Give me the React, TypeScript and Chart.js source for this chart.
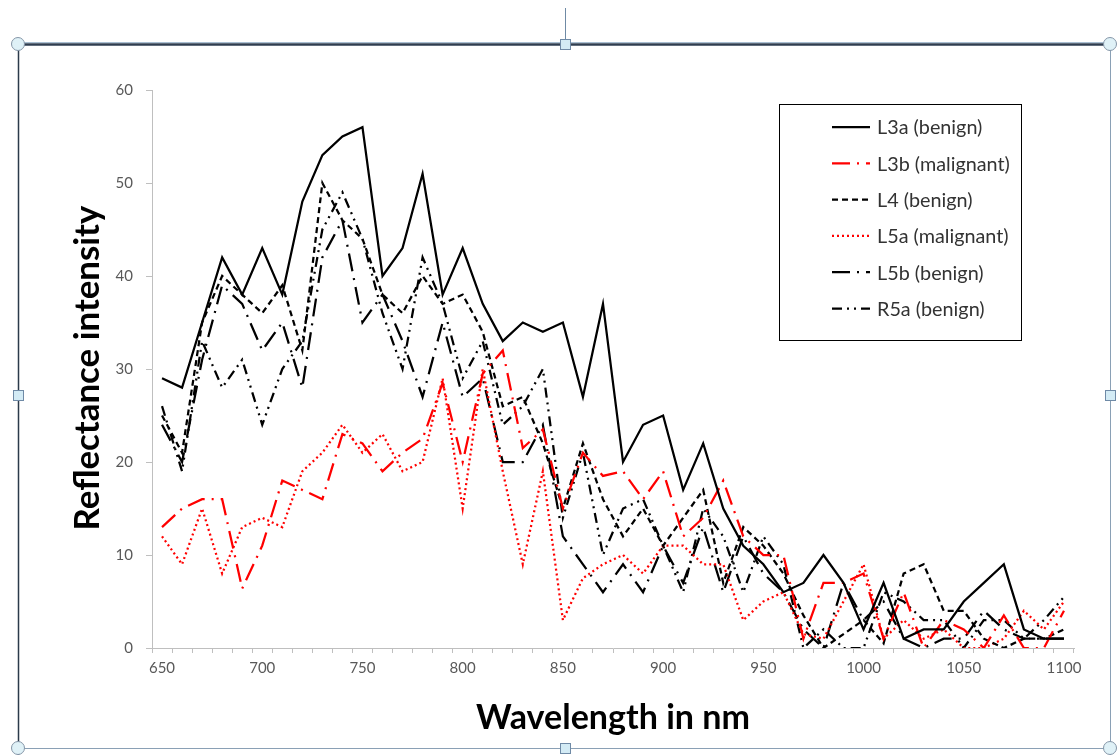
import React, { useEffect, useRef } from "react";
import { Chart, registerables } from "chart.js";

Chart.register(...registerables);

const wavelengths = [
  650, 660, 670, 680, 690, 700, 710, 720, 730, 740, 750, 760, 770, 780, 790, 800,
  810, 820, 830, 840, 850, 860, 870, 880, 890, 900, 910, 920, 930, 940, 950, 960,
  970, 980, 990, 1000, 1010, 1020, 1030, 1040, 1050, 1060, 1070, 1080, 1090, 1100,
];
const shownXLabels = [650, 700, 750, 800, 850, 900, 950, 1000, 1050, 1100];

const l3a = [29, 28, 35, 42, 38, 43, 38, 48, 53, 55, 56, 40, 43, 51, 38, 43, 37, 33, 35, 34, 35, 27, 37, 20, 24, 25, 17, 22, 15, 11, 9, 6, 7, 10, 7, 2, 7, 1, 2, 2, 5, 7, 9, 2, 1, 1];
const l3b = [13, 15, 16, 16, 6.4, 11, 18, 17, 16, 23, 22, 19, 21, 22.5, 28.5, 20, 29.5, 32, 21.5, 23.5, 15, 21, 18.5, 19, 16, 19, 12, 14, 18, 12, 10, 10, 1, 7, 7, 8, 1, 6, 0, 3, 2, 0, 3.5, 0, 0, 4];
const l4 = [25, 21, 35, 40, 38, 36, 39, 32, 50, 46, 44, 38, 36, 40, 37, 38, 34, 26, 27, 22, 15, 22, 16, 12, 15, 11, 14, 17, 7, 13, 11, 8, 3.5, 0, 1.5, 3, 0.5, 8, 9, 4, 4, 1, 0, 1, 1, 2];
const l5a = [12, 9, 15, 8, 13, 14, 13, 19, 21, 24, 21, 23, 19, 20, 29, 15, 30, 19, 9, 19, 3, 7.5, 9, 10, 8, 11, 11, 9, 9, 3, 5, 6, 1.5, 1, 5, 9, 1, 3, 1, 2, 0, 0, 1, 4, 2, 5];
const l5b = [24, 20, 31, 39, 37, 32, 35, 28, 42, 46, 35, 38, 33, 27, 35, 27, 29, 20, 20, 24, 12, 9, 6, 9, 6, 11, 7, 13, 6, 12, 8, 6, 2, 0, 7, 3, 5, 1, 0, 1, 1, 4, 2, 1, 1, 1];
const r5a = [26, 19, 33, 28, 31, 24, 30, 33, 45, 49, 44, 36, 30, 42, 37, 29, 33, 24, 26, 30, 14, 21, 10, 15, 16, 11, 6, 15, 12, 6, 12, 9, 0, 2, 0, 0, 6, 5, 3, 3, 0, 3, 3, 1, 3, 5.5];

const seriesNames = ["L3a (benign)", "L3b (malignant)", "L4 (benign)", "L5a (malignant)", "L5b (benign)", "R5a (benign)"];
const seriesValues = [l3a, l3b, l4, l5a, l5b, r5a];
const seriesColors = ["#000000", "#ff0000", "#000000", "#ff0000", "#000000", "#000000"];
const seriesDashes: number[][] = [[], [18, 7, 2, 7], [6, 4], [2, 3], [18, 7, 2, 7], [10, 5, 2, 5, 2, 5]];

const FONT = "Lato, 'Open Sans', sans-serif";

function fitFont(ctx: CanvasRenderingContext2D, text: string, width: number, weight: string) {
  let size = 20;
  ctx.font = `${weight} ${size}px ${FONT}`;
  const w = ctx.measureText(text).width;
  size = (size * width) / w;
  return `${weight} ${size.toFixed(2)}px ${FONT}`;
}

const decorPlugin = {
  id: "decor",
  beforeDraw(chart: any) {
    const ctx = chart.ctx as CanvasRenderingContext2D;
    ctx.save();
    ctx.fillStyle = "#ffffff";
    ctx.fillRect(0, 0, chart.width, chart.height);
    ctx.restore();
  },
  afterDraw(chart: any) {
    const ctx = chart.ctx as CanvasRenderingContext2D;
    ctx.save();

    // Axis titles
    ctx.fillStyle = "#000000";
    ctx.textAlign = "center";
    ctx.textBaseline = "middle";
    ctx.font = fitFont(ctx, "Wavelength in nm", 274, "bold");
    ctx.fillText("Wavelength in nm", 613, 718);
    ctx.save();
    ctx.translate(88, 368);
    ctx.rotate(-Math.PI / 2);
    ctx.font = fitFont(ctx, "Reflectance intensity", 325, "bold");
    ctx.fillText("Reflectance intensity", 0, 0);
    ctx.restore();

    // Legend box
    ctx.strokeStyle = "#000000";
    ctx.lineWidth = 1;
    ctx.strokeRect(779.5, 104.5, 242, 236);
    const legendFont = fitFont(ctx, "L3b (malignant)", 133, "normal");
    chart.data.datasets.forEach((ds: any, i: number) => {
      const y = 127 + i * 36.3;
      ctx.save();
      ctx.beginPath();
      ctx.strokeStyle = ds.borderColor;
      ctx.lineWidth = 2.25;
      ctx.setLineDash(ds.borderDash || []);
      ctx.moveTo(832, y);
      ctx.lineTo(870, y);
      ctx.stroke();
      ctx.restore();
      ctx.font = legendFont;
      ctx.fillStyle = "#333333";
      ctx.textAlign = "left";
      ctx.textBaseline = "middle";
      ctx.fillText(ds.label, 877, y + 1);
    });

    // Selection frame
    ctx.setLineDash([]);
    ctx.strokeStyle = "#2b3a4a";
    ctx.lineWidth = 1.5;
    ctx.beginPath();
    ctx.moveTo(18.5, 44);
    ctx.lineTo(18.5, 755);
    ctx.stroke();
    ctx.strokeStyle = "#8aa0b5";
    ctx.lineWidth = 1;
    ctx.beginPath();
    ctx.moveTo(1110.5, 44);
    ctx.lineTo(1110.5, 755);
    ctx.moveTo(18, 748.5);
    ctx.lineTo(1110, 748.5);
    ctx.stroke();
    ctx.strokeStyle = "#2f3e50";
    ctx.lineWidth = 2.5;
    ctx.beginPath();
    ctx.moveTo(18, 44.5);
    ctx.lineTo(1110, 44.5);
    ctx.stroke();
    ctx.strokeStyle = "#a9bfd2";
    ctx.lineWidth = 1;
    ctx.beginPath();
    ctx.moveTo(18, 42.5);
    ctx.lineTo(1110, 42.5);
    ctx.stroke();
    ctx.strokeStyle = "#6f8aa5";
    ctx.beginPath();
    ctx.moveTo(565.5, 8);
    ctx.lineTo(565.5, 39);
    ctx.stroke();

    const circles = [[18, 44], [1110, 44], [18, 748], [1110, 748]];
    circles.forEach(([cx, cy]) => {
      ctx.beginPath();
      ctx.arc(cx, cy, 6.5, 0, Math.PI * 2);
      ctx.fillStyle = "#dff1f7";
      ctx.fill();
      ctx.strokeStyle = "#8596a8";
      ctx.lineWidth = 1;
      ctx.stroke();
    });
    const squares = [[565, 44], [18, 395], [1110, 395], [565, 748]];
    squares.forEach(([sx, sy]) => {
      ctx.fillStyle = "#d3ebf5";
      ctx.fillRect(sx - 5, sy - 5, 10, 10);
      ctx.strokeStyle = "#6f8aa6";
      ctx.lineWidth = 1;
      ctx.strokeRect(sx - 5 + 0.5, sy - 5 + 0.5, 10, 10);
    });

    ctx.restore();
  },
};

export default function App() {
  const canvasRef = useRef<HTMLCanvasElement | null>(null);

  useEffect(() => {
    if (!canvasRef.current) return;
    const tickFont = { family: FONT, size: 15 };
    const chart = new Chart(canvasRef.current, {
      type: "line",
      data: {
        labels: wavelengths.map(String),
        datasets: seriesNames.map((name, i) => ({
          label: name,
          data: seriesValues[i],
          borderColor: seriesColors[i],
          backgroundColor: seriesColors[i],
          borderDash: seriesDashes[i],
          borderWidth: 2.25,
          pointRadius: 0,
          tension: 0,
          fill: false,
        })),
      },
      options: {
        animation: false,
        responsive: false,
        devicePixelRatio: 1,
        layout: { padding: { left: 112, right: 44, top: 90, bottom: 47 } },
        plugins: {
          legend: { display: false },
          tooltip: { enabled: false },
          title: { display: false },
        },
        scales: {
          x: {
            type: "category",
            offset: true,
            grid: { offset: true, drawOnChartArea: false, drawTicks: true, tickLength: 5, color: "#bfbfbf" },
            border: { color: "#bfbfbf", width: 1 },
            ticks: {
              autoSkip: false,
              maxRotation: 0,
              minRotation: 0,
              padding: 6,
              color: "#595959",
              font: tickFont,
              callback: (_v: any, i: number) =>
                shownXLabels.includes(wavelengths[i]) ? String(wavelengths[i]) : "",
            },
            afterFit: (s: any) => {
              s.height = 60;
            },
          },
          y: {
            min: 0,
            max: 60,
            ticks: { stepSize: 10, padding: 13, color: "#595959", font: tickFont },
            grid: { drawOnChartArea: false, tickLength: 6, color: "#bfbfbf" },
            border: { color: "#bfbfbf", width: 1 },
            afterFit: (s: any) => {
              s.width = 40;
            },
          },
        },
      },
      plugins: [decorPlugin],
    } as any);
    return () => chart.destroy();
  }, []);

  return (
    <div style={{ position: "fixed", left: 0, top: 0, width: 1118, height: 755, background: "#fff" }}>
      <canvas ref={canvasRef} width={1118} height={755} style={{ width: 1118, height: 755, display: "block" }} />
    </div>
  );
}
